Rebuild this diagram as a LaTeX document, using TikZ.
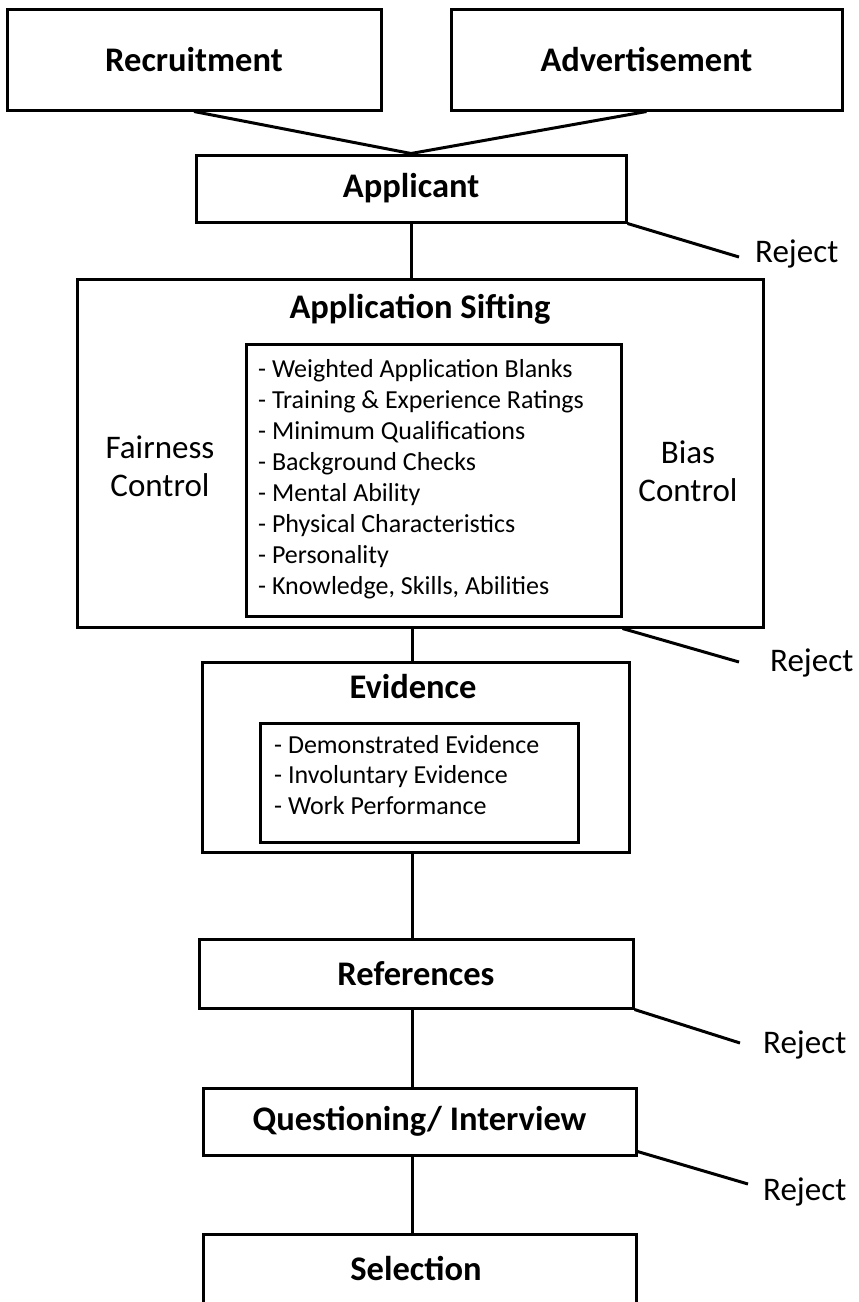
\documentclass[tikz,border=0pt]{standalone}
\usepackage{fontspec}
\setmainfont{Carlito}
\begin{document}
\begin{tikzpicture}[x=1pt,y=-1pt,
  box/.style={draw, line width=3pt, inner sep=0pt, align=center, font=\fontsize{34.5}{40}\selectfont\bfseries},
  link/.style={line width=3pt},
  ttl/.style={inner sep=0pt, anchor=base, font=\fontsize{34.5}{40}\selectfont\bfseries},
  side/.style={inner sep=0pt, align=center, font=\fontsize{33}{38}\selectfont},
  item/.style={inner sep=0pt, anchor=base west, font=\fontsize{26}{31}\selectfont},
  rej/.style={inner sep=0pt, anchor=base west, font=\fontsize{33}{40}\selectfont}]
\useasboundingbox (0,0) rectangle (859,1302);
\coordinate (spine) at (412,0);
% boxes
\node[box, minimum width=374pt, minimum height=101pt] (rec) at (194,59.5) {Recruitment};
\node[box, minimum width=391pt, minimum height=101pt] (adv) at (646.5,59.5) {Advertisement};
\node[box, minimum width=430pt, minimum height=67pt] (app) at (411,188.5) {Applicant};
\node[box, minimum width=686pt, minimum height=348pt] (sift) at (420,453) {};
\node[ttl] (sifttitle) at (420,318) {Application Sifting};
\node[box, minimum width=375pt, minimum height=272pt] (siftlist) at (433.5,480) {};
\node[side] (fair) at (160,466) {Fairness\\Control};
\node[side] (bias) at (688,471) {Bias\\Control};
\foreach \t [count=\i] in {Weighted Application Blanks, Training \& Experience Ratings, Minimum Qualifications, Background Checks, Mental Ability, Physical Characteristics, Personality, {Knowledge, Skills, Abilities}}
  \node[item] (s\i) at (258,{377+31.1*(\i-1)}) {- \t};
\node[box, minimum width=427pt, minimum height=190pt] (ev) at (415.5,757) {};
\node[ttl] (evtitle) at (413,698) {Evidence};
\node[box, minimum width=318pt, minimum height=119pt] (evlist) at (419,782.5) {};
\foreach \t [count=\i] in {Demonstrated Evidence, Involuntary Evidence, Work Performance}
  \node[item] (e\i) at (274,{753+30.8*(\i-1)}) {- \t};
\node[box, minimum width=434pt, minimum height=69pt] (ref) at (416,973.5) {References};
\node[box, minimum width=433pt, minimum height=67pt] (qi) at (419.5,1121.5) {Questioning/ Interview};
\node[box, minimum width=433pt, minimum height=100pt] (sel) at (419.5,1284) {};
\node[ttl] (seltitle) at (416,1280) {Selection};
% connectors
\draw[link] (rec.south) -- (app.north);
\draw[link] (adv.south) -- (app.north);
\draw[link] (app.south) -- (app.south |- sift.north);
\draw[link] (sift.south -| spine) -- (ev.north -| spine);
\draw[link] (ev.south -| spine) -- (ref.north -| spine);
\draw[link] (ref.south -| spine) -- (qi.north -| spine);
\draw[link] (qi.south -| spine) -- (sel.north -| spine);
% rejects
\coordinate (r1) at (739,257);
\coordinate (r2) at (739,662);
\coordinate (r3) at (740,1043);
\coordinate (r4) at (748,1184);
\draw[link] (app.south east) -- (r1);
\draw[link] (sift.south -| siftlist.east) -- (r2);
\draw[link] (ref.south east) -- (r3);
\draw[link] ([yshift=5pt]qi.south east) -- (r4);
\node[rej] (rj1) at (755,262) {Reject};
\node[rej] (rj2) at (770,671) {Reject};
\node[rej] (rj3) at (763,1053) {Reject};
\node[rej] (rj4) at (763,1200) {Reject};
\end{tikzpicture}
\end{document}
